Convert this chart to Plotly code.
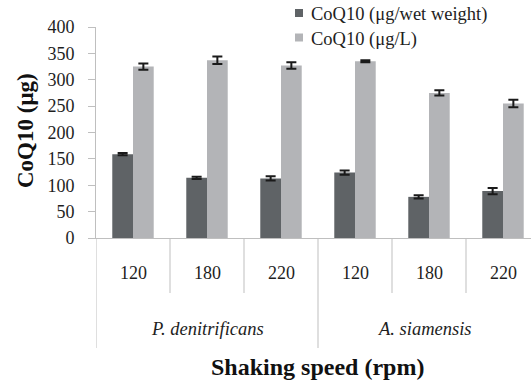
import plotly.graph_objects as go

species = ["P. denitrificans", "P. denitrificans", "P. denitrificans",
           "A. siamensis", "A. siamensis", "A. siamensis"]
speeds = ["120", "180", "220", "120", "180", "220"]
wet_weight = [159, 114, 113, 124, 78, 89]
wet_weight_err = [2, 2, 4, 4, 3, 6]
per_litre = [325, 337, 327, 335, 275, 255]
per_litre_err = [6, 7, 6, 2, 5, 7]
series_names = ["CoQ10 (μg/wet weight)", "CoQ10 (μg/L)"]
y_ticks = [0, 50, 100, 150, 200, 250, 300, 350, 400]

FONT = "Liberation Serif, Times New Roman, serif"
DARK = "#5f6366"
LIGHT = "#b3b4b7"
AXIS = "#bfbfbf"
TXT = "#1e1e1e"
colors = [DARK, LIGHT]

x = list(range(len(speeds)))

fig = go.Figure()
for name, vals, errs, col in [(series_names[0], wet_weight, wet_weight_err, DARK),
                              (series_names[1], per_litre, per_litre_err, LIGHT)]:
    fig.add_trace(go.Bar(
        x=x, y=vals, name=name, marker_color=col, marker_line_width=0,
        error_y=dict(type="data", array=errs, color="#1a1a1a",
                     thickness=2, width=5)))

W, H = 531, 383
ml, mr, mt, mb = 96, 0, 27, 145
plot_w = W - ml - mr
plot_h = H - mt - mb
cat_px = 74.0
xmax = -0.5 + plot_w / cat_px

def ypaper(pix):
    return (H - mb - pix) / plot_h

def xpaper(pix):
    return (pix - ml) / plot_w

shapes = []
annotations = []
# category dividers
for i in range(len(speeds) + 1):
    xb = i - 0.5
    if i == 0 or i == len(speeds) or species[i] != species[i - 1]:
        y1 = ypaper(348)
    else:
        y1 = ypaper(293)
    if xb <= xmax:
        shapes.append(dict(type="line", xref="x", yref="paper", x0=xb, x1=xb,
                           y0=0, y1=y1, line=dict(color=AXIS, width=1)))
# speed labels
for i, s in enumerate(speeds):
    annotations.append(dict(x=i, y=ypaper(272.7), xref="x", yref="paper",
                            xanchor="center", yanchor="middle",
                            text=s, showarrow=False,
                            font=dict(family=FONT, size=18, color=TXT)))
# species labels
groups = []
for i, sp in enumerate(species):
    if not groups or groups[-1][0] != sp:
        groups.append([sp, i, i])
    else:
        groups[-1][2] = i
for sp, a, b in groups:
    lo = a - 0.5
    hi = min(b + 0.5, xmax)
    annotations.append(dict(x=(lo + hi) / 2, y=ypaper(329.3), xref="x",
                            yref="paper", xanchor="center", yanchor="middle",
                            text=f"<i>{sp}</i>", showarrow=False,
                            font=dict(family=FONT, size=18.5, color=TXT)))
# axis titles
annotations.append(dict(x=xpaper(317), y=ypaper(366.7), xref="paper",
                        yref="paper", xanchor="center", yanchor="middle",
                        text="<b>Shaking speed (rpm)</b>", showarrow=False,
                        font=dict(family=FONT, size=24, color="#111")))
annotations.append(dict(x=xpaper(25), y=ypaper(131), xref="paper",
                        yref="paper", xanchor="center", yanchor="middle",
                        text="<b>CoQ10 (μg)</b>", textangle=-90,
                        showarrow=False,
                        font=dict(family=FONT, size=23, color="#111")))
# legend (drawn manually)
for k, (name, col) in enumerate(zip(series_names, colors)):
    cy = 13 + 24.5 * k
    shapes.append(dict(type="rect", xref="paper", yref="paper",
                       x0=xpaper(295), x1=xpaper(303),
                       y0=ypaper(cy - 4), y1=ypaper(cy + 4),
                       fillcolor=col, line=dict(width=0)))
    annotations.append(dict(x=xpaper(309), y=ypaper(cy + 1.5), xref="paper",
                            yref="paper", xanchor="left", yanchor="middle",
                            text=name, showarrow=False,
                            font=dict(family=FONT, size=18.5, color=TXT)))

fig.update_layout(
    width=W, height=H,
    margin=dict(l=ml, r=mr, t=mt, b=mb),
    paper_bgcolor="white", plot_bgcolor="white",
    barmode="group", bargap=0.44, bargroupgap=0,
    font=dict(family=FONT, size=18, color=TXT),
    showlegend=False,
    xaxis=dict(range=[-0.5, xmax], showticklabels=False, ticks="",
               showgrid=False, zeroline=False, showline=True,
               linecolor=AXIS, linewidth=1),
    yaxis=dict(range=[0, 400], tickvals=y_ticks, showgrid=False,
               zeroline=False, showline=True, linecolor=AXIS, linewidth=1,
               ticks="outside", ticklen=7, tickcolor=AXIS,
               ticklabelstandoff=10,
               tickfont=dict(family=FONT, size=18, color=TXT)),
    shapes=shapes, annotations=annotations,
)

fig.write_html("out.html")
